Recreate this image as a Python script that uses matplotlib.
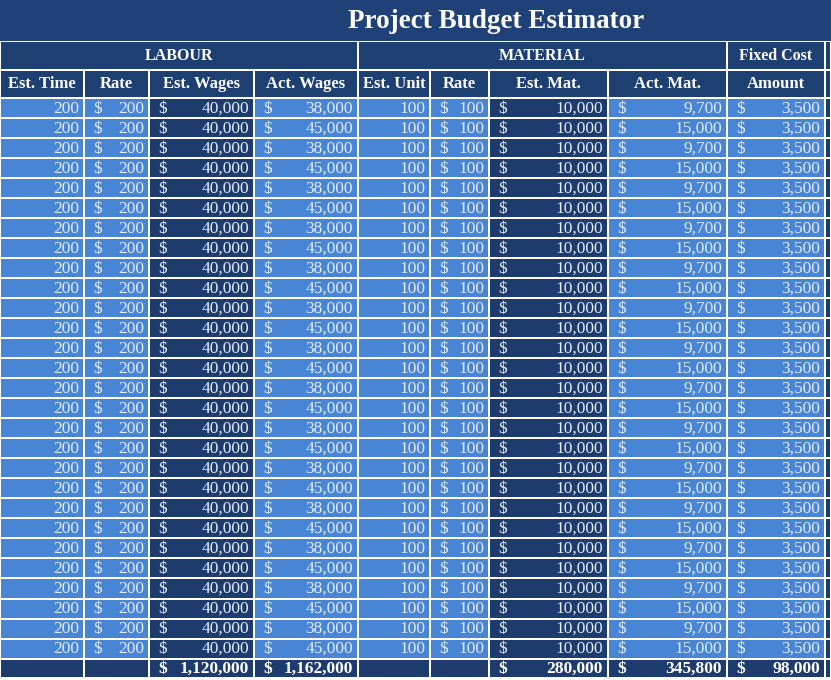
import matplotlib.pyplot as plt
from matplotlib.patches import Rectangle

title = "Project Budget Estimator"
groups = ["LABOUR", "MATERIAL", "Fixed Cost"]
headers = ["Est. Time", "Rate", "Est. Wages", "Act. Wages", "Est. Unit", "Rate",
           "Est. Mat.", "Act. Mat.", "Amount"]

est_time = [200, 200, 200, 200, 200, 200, 200, 200, 200, 200, 200, 200, 200, 200,
            200, 200, 200, 200, 200, 200, 200, 200, 200, 200, 200, 200, 200, 200]
labour_rate = [200, 200, 200, 200, 200, 200, 200, 200, 200, 200, 200, 200, 200, 200,
               200, 200, 200, 200, 200, 200, 200, 200, 200, 200, 200, 200, 200, 200]
est_wages = [40000, 40000, 40000, 40000, 40000, 40000, 40000, 40000, 40000, 40000,
             40000, 40000, 40000, 40000, 40000, 40000, 40000, 40000, 40000, 40000,
             40000, 40000, 40000, 40000, 40000, 40000, 40000, 40000]
act_wages = [38000, 45000, 38000, 45000, 38000, 45000, 38000, 45000, 38000, 45000,
             38000, 45000, 38000, 45000, 38000, 45000, 38000, 45000, 38000, 45000,
             38000, 45000, 38000, 45000, 38000, 45000, 38000, 45000]
est_unit = [100, 100, 100, 100, 100, 100, 100, 100, 100, 100, 100, 100, 100, 100,
            100, 100, 100, 100, 100, 100, 100, 100, 100, 100, 100, 100, 100, 100]
material_rate = [100, 100, 100, 100, 100, 100, 100, 100, 100, 100, 100, 100, 100, 100,
                 100, 100, 100, 100, 100, 100, 100, 100, 100, 100, 100, 100, 100, 100]
est_mat = [10000, 10000, 10000, 10000, 10000, 10000, 10000, 10000, 10000, 10000,
           10000, 10000, 10000, 10000, 10000, 10000, 10000, 10000, 10000, 10000,
           10000, 10000, 10000, 10000, 10000, 10000, 10000, 10000]
act_mat = [9700, 15000, 9700, 15000, 9700, 15000, 9700, 15000, 9700, 15000,
           9700, 15000, 9700, 15000, 9700, 15000, 9700, 15000, 9700, 15000,
           9700, 15000, 9700, 15000, 9700, 15000, 9700, 15000]
fixed_amount = [3500, 3500, 3500, 3500, 3500, 3500, 3500, 3500, 3500, 3500,
                3500, 3500, 3500, 3500, 3500, 3500, 3500, 3500, 3500, 3500,
                3500, 3500, 3500, 3500, 3500, 3500, 3500, 3500]

columns = [est_time, labour_rate, est_wages, act_wages, est_unit, material_rate,
           est_mat, act_mat, fixed_amount]
# which columns get a "$" and which get the dark fill / a total
is_currency = [False, True, True, True, False, True, True, True, True]
is_dark = [False, False, True, False, False, False, True, False, False]
has_total = [False, False, True, True, False, False, True, True, True]

title_bg = '#1f4177'
header_bg = '#1e3f72'
light = '#4985d5'
dark = '#1d3b6c'
cell_text = '#e2ecfa'
serif = ['Liberation Serif', 'DejaVu Serif']

col_edges = [0, 84, 149, 254, 358, 430, 489, 608, 727, 825, 831]
row_h = 20.02
top_data = 98


def cell(ax, x0, x1, y0, y1, color):
    ax.add_patch(Rectangle((x0 + 1, y0 + 1), x1 - x0 - 2, y1 - y0 - 2,
                           facecolor=color, edgecolor='none'))


def write_value(ax, x0, x1, yc, value, currency, color, weight='normal'):
    if currency:
        ax.text(x0 + 9, yc, '$', ha='left', va='center', color=color,
                fontsize=12.5, family=serif, fontweight=weight)
    ax.text(x1 - 5, yc, '{:,}'.format(value), ha='right', va='center', color=color,
            fontsize=12.5, family=serif, fontweight=weight)


fig = plt.figure(figsize=(8.31, 6.80), dpi=100)
ax = fig.add_axes([0, 0, 1, 1])
ax.set_xlim(0, 831)
ax.set_ylim(680, 0)
ax.axis('off')

# title band
ax.add_patch(Rectangle((0, 0), 831, 41, facecolor=title_bg, edgecolor='none'))
ax.text(496, 22, title, ha='center', va='center', color='white',
        fontsize=19.5, fontweight='bold', family=serif)

# group header row
group_spans = [(0, 4), (4, 8), (8, 9), (9, 10)]
for i, (a, b) in enumerate(group_spans):
    cell(ax, col_edges[a], col_edges[b], 41, 70, header_bg)
    if i < len(groups):
        ax.text((col_edges[a] + col_edges[b]) / 2, 56, groups[i], ha='center', va='center',
                color='white', fontsize=11.5, fontweight='bold', family=serif)

# column header row
for j in range(len(col_edges) - 1):
    cell(ax, col_edges[j], col_edges[j + 1], 70, 98, header_bg)
    if j < len(headers):
        ax.text((col_edges[j] + col_edges[j + 1]) / 2, 84.5, headers[j], ha='center',
                va='center', color='white', fontsize=12, fontweight='bold', family=serif)

# data rows
n_rows = len(est_time)
for r in range(n_rows):
    y0 = top_data + r * row_h
    y1 = y0 + row_h
    for j in range(len(col_edges) - 1):
        x0, x1 = col_edges[j], col_edges[j + 1]
        if j >= len(columns):
            cell(ax, x0, x1, y0, y1, dark)
            continue
        cell(ax, x0, x1, y0, y1, dark if is_dark[j] else light)
        write_value(ax, x0, x1, (y0 + y1) / 2 + 0.5, columns[j][r], is_currency[j], cell_text)

# totals row
y0 = top_data + n_rows * row_h
y1 = 678
for j in range(len(col_edges) - 1):
    x0, x1 = col_edges[j], col_edges[j + 1]
    cell(ax, x0, x1, y0, y1, dark)
    if j < len(columns) and has_total[j]:
        write_value(ax, x0, x1, (y0 + y1) / 2 + 0.5, sum(columns[j]), True, 'white', 'bold')

fig.savefig('out.png', dpi=100, facecolor='white')
